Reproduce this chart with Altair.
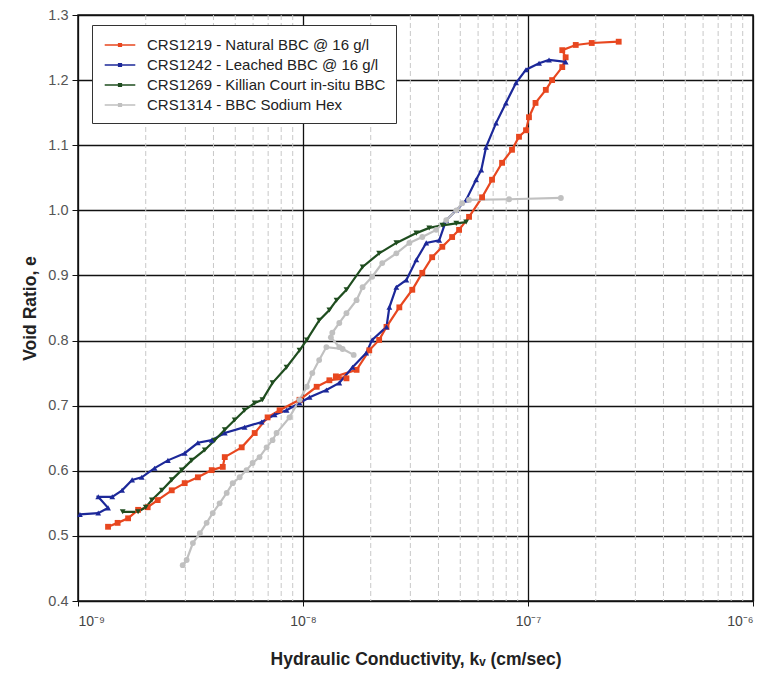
import altair as alt
import pandas as pd

series_names = [
    "CRS1219 - Natural BBC @ 16 g/l",
    "CRS1242 - Leached BBC @ 16 g/l",
    "CRS1269 - Killian Court in-situ BBC",
    "CRS1314 - BBC Sodium Hex",
]
series_colors = ["#e8471f", "#1c2899", "#1f4d1f", "#c0c0c0"]
series_shapes = ["square", "triangle-up", "triangle-down", "circle"]

red_k = [1.36e-9, 1.50e-9, 1.67e-9, 1.85e-9, 2.04e-9, 2.26e-9, 2.61e-9, 2.98e-9, 3.41e-9, 3.93e-9,
         4.40e-9, 4.49e-9, 5.34e-9, 6.10e-9, 6.96e-9, 7.87e-9, 9.65e-9, 1.15e-8, 1.31e-8, 1.56e-8,
         1.40e-8, 1.73e-8, 1.97e-8, 2.18e-8, 2.35e-8, 2.68e-8, 3.06e-8, 3.39e-8, 3.75e-8, 4.16e-8,
         4.60e-8, 4.94e-8, 5.47e-8, 6.25e-8, 6.92e-8, 7.67e-8, 8.49e-8, 9.12e-8, 9.80e-8, 1.01e-7,
         1.08e-7, 1.20e-7, 1.28e-7, 1.42e-7, 1.47e-7, 1.42e-7, 1.63e-7, 1.92e-7, 2.53e-7]
red_e = [0.514, 0.520, 0.527, 0.540, 0.544, 0.555, 0.570, 0.581, 0.590, 0.601,
         0.606, 0.621, 0.636, 0.658, 0.682, 0.693, 0.709, 0.729, 0.739, 0.742,
         0.745, 0.755, 0.785, 0.801, 0.821, 0.851, 0.878, 0.904, 0.928, 0.944,
         0.959, 0.970, 0.990, 1.020, 1.047, 1.073, 1.093, 1.113, 1.123, 1.143,
         1.165, 1.185, 1.200, 1.220, 1.235, 1.246, 1.254, 1.257, 1.259]

blue_k = [1.02e-9, 1.23e-9, 1.36e-9, 1.23e-9, 1.42e-9, 1.57e-9, 1.74e-9, 1.92e-9, 2.19e-9, 2.51e-9,
          2.98e-9, 3.41e-9, 3.93e-9, 4.49e-9, 5.50e-9, 6.55e-9, 7.48e-9, 8.45e-9, 9.65e-9, 1.07e-8,
          1.27e-8, 1.45e-8, 1.66e-8, 1.91e-8, 2.03e-8, 2.35e-8, 2.42e-8, 2.60e-8, 2.88e-8, 3.19e-8,
          3.53e-8, 4.03e-8, 4.33e-8, 4.80e-8, 5.31e-8, 5.88e-8, 6.20e-8, 6.51e-8, 7.21e-8, 7.98e-8,
          8.85e-8, 9.80e-8, 1.12e-7, 1.24e-7, 1.47e-7]
blue_e = [0.533, 0.535, 0.543, 0.560, 0.560, 0.570, 0.586, 0.590, 0.604, 0.616,
          0.627, 0.643, 0.647, 0.658, 0.667, 0.675, 0.686, 0.693, 0.704, 0.713,
          0.724, 0.735, 0.759, 0.781, 0.801, 0.821, 0.851, 0.882, 0.893, 0.924,
          0.950, 0.954, 0.985, 1.000, 1.016, 1.047, 1.062, 1.097, 1.134, 1.165,
          1.196, 1.216, 1.226, 1.231, 1.228]

green_k = [1.58e-9, 1.85e-9, 2.00e-9, 2.13e-9, 2.36e-9, 2.61e-9, 2.89e-9, 3.20e-9, 3.66e-9, 4.05e-9,
           4.49e-9, 4.97e-9, 5.50e-9, 6.10e-9, 6.60e-9, 7.32e-9, 8.45e-9, 9.65e-9, 1.04e-8, 1.18e-8,
           1.31e-8, 1.41e-8, 1.56e-8, 1.84e-8, 2.18e-8, 2.60e-8, 3.19e-8, 3.64e-8, 4.16e-8, 4.80e-8,
           5.31e-8]
green_e = [0.537, 0.537, 0.544, 0.555, 0.570, 0.586, 0.601, 0.616, 0.632, 0.647,
           0.663, 0.678, 0.693, 0.704, 0.709, 0.735, 0.759, 0.785, 0.801, 0.831,
           0.847, 0.862, 0.878, 0.913, 0.934, 0.950, 0.965, 0.973, 0.977, 0.980,
           0.982]

gray_k = [2.92e-9, 3.04e-9, 3.24e-9, 3.48e-9, 3.73e-9, 3.97e-9, 4.26e-9, 4.58e-9, 4.87e-9, 5.23e-9,
          5.61e-9, 5.97e-9, 6.41e-9, 6.89e-9, 7.32e-9, 7.63e-9, 8.71e-9, 9.65e-9, 1.04e-8, 1.10e-8,
          1.18e-8, 1.27e-8, 1.50e-8, 1.68e-8, 1.45e-8, 1.33e-8, 1.35e-8, 1.45e-8, 1.56e-8, 1.73e-8,
          1.84e-8, 2.03e-8, 2.25e-8, 2.60e-8, 2.97e-8, 3.39e-8, 3.91e-8, 4.33e-8, 4.80e-8, 5.10e-8,
          5.47e-8, 8.24e-8, 1.40e-7]
gray_e = [0.455, 0.463, 0.489, 0.504, 0.520, 0.535, 0.550, 0.566, 0.581, 0.590,
          0.601, 0.612, 0.621, 0.636, 0.647, 0.658, 0.682, 0.709, 0.729, 0.750,
          0.770, 0.790, 0.787, 0.778, 0.790, 0.805, 0.812, 0.827, 0.842, 0.862,
          0.882, 0.898, 0.919, 0.934, 0.950, 0.959, 0.970, 0.985, 1.000, 1.011,
          1.016, 1.017, 1.019]

x_major = [1e-9, 1e-8, 1e-7, 1e-6]
x_minor = [m * d for d in (1e-9, 1e-8, 1e-7) for m in (2, 3, 4, 5, 6, 7, 8, 9)]
y_ticks = [0.4, 0.5, 0.6, 0.7, 0.8, 0.9, 1.0, 1.1, 1.2, 1.3]

rows = []
for name, col, shp, ks, es in zip(series_names, series_colors, series_shapes,
                                  [red_k, blue_k, green_k, gray_k], [red_e, blue_e, green_e, gray_e]):
    for i, (k, e) in enumerate(zip(ks, es)):
        rows.append({"series": name, "hex": col, "shape": shp, "k": k, "e": e, "idx": i})
df = pd.DataFrame(rows)

W, H = 675, 586
FONT = "Liberation Sans"

xscale = alt.Scale(type="log", domain=[1e-9, 1e-6], nice=False)
yscale = alt.Scale(domain=[0.4, 1.3], nice=False, zero=False)
cscale = alt.Scale(domain=series_names, range=series_colors)

label_expr = ("datum.value < 5e-9 ? '10⁻⁹' : datum.value < 5e-8 ? '10⁻⁸' : "
              "datum.value < 5e-7 ? '10⁻⁷' : '10⁻⁶'")

x_axis = alt.Axis(
    values=x_major, labelExpr=label_expr, title="Hydraulic Conductivity, kᵥ (cm/sec)",
    grid=True, gridColor="#111", gridWidth=1.3, tickColor="#111", tickSize=5,
    domain=False, labelFont=FONT, labelFontSize=14, labelColor="#444", labelPadding=8,
    titleFont=FONT, titleFontSize=17.5, titleFontWeight="bold", titleColor="#222", titlePadding=22)
y_axis = alt.Axis(
    values=y_ticks, format=".1f", title="Void Ratio, e",
    grid=True, gridColor="#111", gridWidth=1.3, tickColor="#111", tickSize=6,
    domain=False, labelFont=FONT, labelFontSize=14.5, labelColor="#555", labelPadding=4,
    titleFont=FONT, titleFontSize=17.5, titleFontWeight="bold", titleColor="#222", titlePadding=8)

x_enc = alt.X("k:Q", scale=xscale, axis=x_axis)
y_enc = alt.Y("e:Q", scale=yscale, axis=y_axis)

minor = alt.Chart(pd.DataFrame({"k": x_minor})).mark_rule(
    color="#c8c8c8", strokeDash=[5, 3], strokeWidth=1
).encode(x=x_enc)

legend = alt.Legend(
    title=None, orient="none", legendX=14, legendY=10,
    fillColor="white", strokeColor="#333", padding=10, rowPadding=2,
    labelFont=FONT, labelFontSize=15, labelColor="#222", labelLimit=400, labelOffset=17,
    symbolType="M-1.7,0L1.7,0M-0.15,-0.15L0.15,-0.15L0.15,0.15L-0.15,0.15Z",
    symbolSize=324, symbolStrokeWidth=1.5, symbolOffset=8,
)

lines = alt.Chart(df).mark_line(strokeWidth=2.2).encode(
    x=x_enc, y=y_enc,
    color=alt.Color("series:N", scale=cscale, legend=legend),
    order=alt.Order("idx:Q"),
)
points = alt.Chart(df).mark_point(filled=True, size=34, opacity=1).encode(
    x=x_enc, y=y_enc,
    color=alt.Color("hex:N", scale=None),
    shape=alt.Shape("shape:N", scale=None),
)

chart = alt.layer(minor, lines, points).properties(
    width=W, height=H, autosize="none",
    padding={"left": 78, "top": 15, "right": 18, "bottom": 72},
    background="white",
).configure_view(stroke="#111", strokeWidth=1.5)

chart.save("out.html", embed_options={"renderer": "svg", "actions": False})
